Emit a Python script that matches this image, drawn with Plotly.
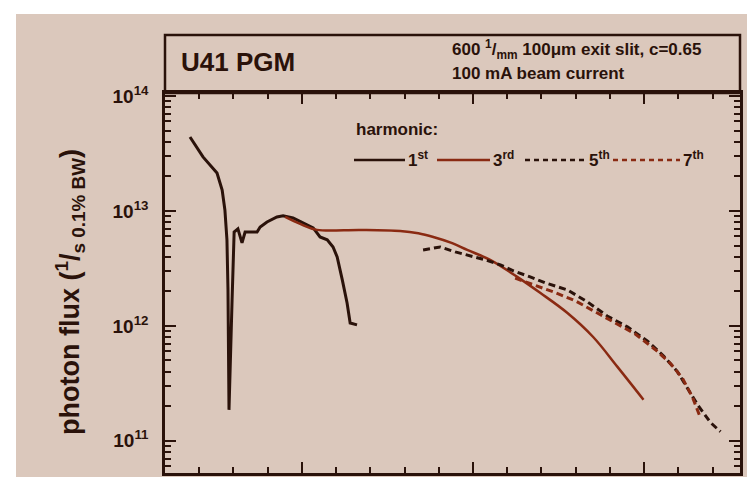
import plotly.graph_objects as go

# ---------------- data ----------------
h1_energy = [173, 211, 252, 267, 275, 281, 284, 284.5, 287, 296, 302, 313, 325, 334, 369, 378,
             398, 427, 445, 474, 504, 533, 553, 574, 591, 603, 618, 632, 641, 661]
h1_flux = [4.40e13, 2.95e13, 2.14e13, 1.52e13, 1.02e13, 5.6e12, 2.06e12, 5.4e11, 1.86e11, 1.68e12,
           6.56e12, 6.97e12, 5.27e12, 6.56e12, 6.56e12, 7.26e12, 8.02e12, 8.87e12, 9.06e12, 8.69e12,
           7.87e12, 7.11e12, 5.94e12, 5.60e12, 4.86e12, 3.98e12, 2.51e12, 1.58e12, 1.06e12, 1.02e12]

h3_energy = [451, 495, 544, 670, 787, 840, 884, 935, 983, 1050, 1129, 1196, 1275, 1351, 1422, 1498]
h3_flux = [8.87e12, 7.71e12, 6.84e12, 6.84e12, 6.70e12, 6.40e12, 5.94e12, 5.30e12, 4.58e12, 3.75e12,
           2.67e12, 1.94e12, 1.30e12, 8.0e11, 4.40e11, 2.28e11]

h5_energy = [854, 904, 948, 992, 1036, 1080, 1118, 1167, 1211, 1275, 1334, 1392, 1451, 1509,
             1556, 1597, 1626, 1656, 1694, 1723]
h5_flux = [4.58e12, 4.86e12, 4.40e12, 4.06e12, 3.75e12, 3.39e12, 3.01e12, 2.67e12, 2.37e12,
           2.06e12, 1.62e12, 1.22e12, 9.8e11, 7.4e11, 5.5e11, 4.0e11, 2.9e11, 2.06e11, 1.44e11, 1.20e11]

h7_energy = [1123, 1182, 1240, 1299, 1357, 1416, 1474, 1533, 1577, 1612, 1641, 1664]
h7_flux = [2.60e12, 2.25e12, 1.95e12, 1.65e12, 1.33e12, 1.06e12, 8.5e11, 6.2e11, 4.7e11,
           3.5e11, 2.4e11, 1.6e11]

y_tick_vals = [1e11, 1e12, 1e13, 1e14]
y_tick_text = ["<b>10<sup>11</sup></b>", "<b>10<sup>12</sup></b>", "<b>10<sup>13</sup></b>",
               "<b>10<sup>14</sup></b>"]

legend_labels = ["1<sup>st</sup>", "3<sup>rd</sup>", "5<sup>th</sup>", "7<sup>th</sup>"]

# ---------------- styling ----------------
INK = "#2a120a"
RED = "#8a2a12"
TAN = "#dbc8bc"
FONT = "Liberation Sans, Arial, sans-serif"

fig = go.Figure()
fig.add_trace(go.Scatter(x=h1_energy, y=h1_flux, mode="lines", name="1st",
                         line=dict(color=INK, width=3)))
fig.add_trace(go.Scatter(x=h3_energy, y=h3_flux, mode="lines", name="3rd", line_shape="spline",
                         line=dict(color=RED, width=2.5)))
fig.add_trace(go.Scatter(x=h5_energy, y=h5_flux, mode="lines", name="5th",
                         line=dict(color=INK, width=3, dash="7px,4px")))
fig.add_trace(go.Scatter(x=h7_energy, y=h7_flux, mode="lines", name="7th",
                         line=dict(color=RED, width=3, dash="7px,4px")))

# plot area in pixels: x 165..740, y 93..473
L, R, T, B = 165, 740, 93, 473
W, H = R - L, B - T


def px(xp):
    return (xp - L) / W


def py(yp):
    return (B - yp) / H


shapes = []
# scanned page background
shapes.append(dict(type="rect", xref="paper", yref="paper", x0=px(16), x1=px(747), y0=py(477), y1=py(14),
                   fillcolor=TAN, line=dict(width=0), layer="below"))
# title box
shapes.append(dict(type="rect", xref="paper", yref="paper", x0=0, x1=1, y0=1, y1=py(35),
                   line=dict(color=INK, width=2.5), fillcolor="rgba(0,0,0,0)"))

annotations = []
annotations.append(dict(xref="paper", yref="paper", x=px(179), y=py(62), xanchor="left", yanchor="middle",
                        text="<b>U41 PGM</b>", showarrow=False, font=dict(size=26, color=INK, family=FONT)))
annotations.append(dict(xref="paper", yref="paper", x=px(450), y=py(50), xanchor="left", yanchor="middle",
                        text="<b>600 <sup>1</sup>/<sub>mm</sub> 100\u03bcm exit slit, c=0.65</b>", showarrow=False,
                        font=dict(size=17, color=INK, family=FONT)))
annotations.append(dict(xref="paper", yref="paper", x=px(450), y=py(74), xanchor="left", yanchor="middle",
                        text="<b>100 mA beam current</b>", showarrow=False,
                        font=dict(size=17, color=INK, family=FONT)))
annotations.append(dict(xref="paper", yref="paper", x=px(70), y=py(292), xanchor="center", yanchor="middle",
                        textangle=-90, text="<b>photon flux (<sup>1</sup>/<sub>s 0.1% BW</sub>)</b>",
                        showarrow=False, font=dict(size=27, color=INK, family=FONT)))
annotations.append(dict(xref="paper", yref="paper", x=px(354), y=py(129), xanchor="left", yanchor="middle",
                        text="<b>harmonic:</b>", showarrow=False, font=dict(size=17, color=INK, family=FONT)))

# manual legend row
leg_y = 160
leg_items = [(354, 405, INK, "solid"), (437, 490, RED, "solid"),
             (525, 586, INK, "5px,4px"), (613, 680, RED, "5px,4px")]
for (x0, x1, col, dash), lab in zip(leg_items, legend_labels):
    shapes.append(dict(type="line", xref="paper", yref="paper", x0=px(x0), x1=px(x1), y0=py(leg_y), y1=py(leg_y),
                       line=dict(color=col, width=2.5, dash=dash)))
    annotations.append(dict(xref="paper", yref="paper", x=px(x1 + 1), y=py(leg_y - 1), xanchor="left",
                            yanchor="middle", text="<b>" + lab + "</b>", showarrow=False,
                            font=dict(size=17, color=INK, family=FONT)))

minor_y = [m * 10 ** e for e in range(10, 15) for m in range(2, 10)]

fig.update_layout(
    width=747, height=477,
    margin=dict(l=L, r=747 - R, t=T, b=477 - B),
    paper_bgcolor="white", plot_bgcolor="rgba(0,0,0,0)",
    showlegend=False,
    shapes=shapes, annotations=annotations,
    font=dict(family=FONT, color=INK),
    xaxis=dict(range=[100, 1780], showgrid=False, zeroline=False, showline=True, linecolor=INK, linewidth=2.5,
               mirror="ticks", ticks="inside", ticklen=11, tickwidth=2, tickcolor=INK, tick0=0, dtick=500,
               showticklabels=False,
               minor=dict(ticks="inside", ticklen=6, tickwidth=2, tickcolor=INK, dtick=100, showgrid=False)),
    yaxis=dict(type="log", range=[10.72, 14.026], showgrid=False, zeroline=False, showline=True,
               linecolor=INK, linewidth=2.5, mirror="ticks", ticks="inside", ticklen=11, tickwidth=2,
               tickcolor=INK, tickvals=y_tick_vals, ticktext=y_tick_text, ticklabelstandoff=10,
               tickfont=dict(size=19, color=INK, family=FONT),
               minor=dict(ticks="inside", ticklen=6, tickwidth=2, tickcolor=INK, tickvals=minor_y,
                          showgrid=False)),
)

fig.write_html("out.html")
